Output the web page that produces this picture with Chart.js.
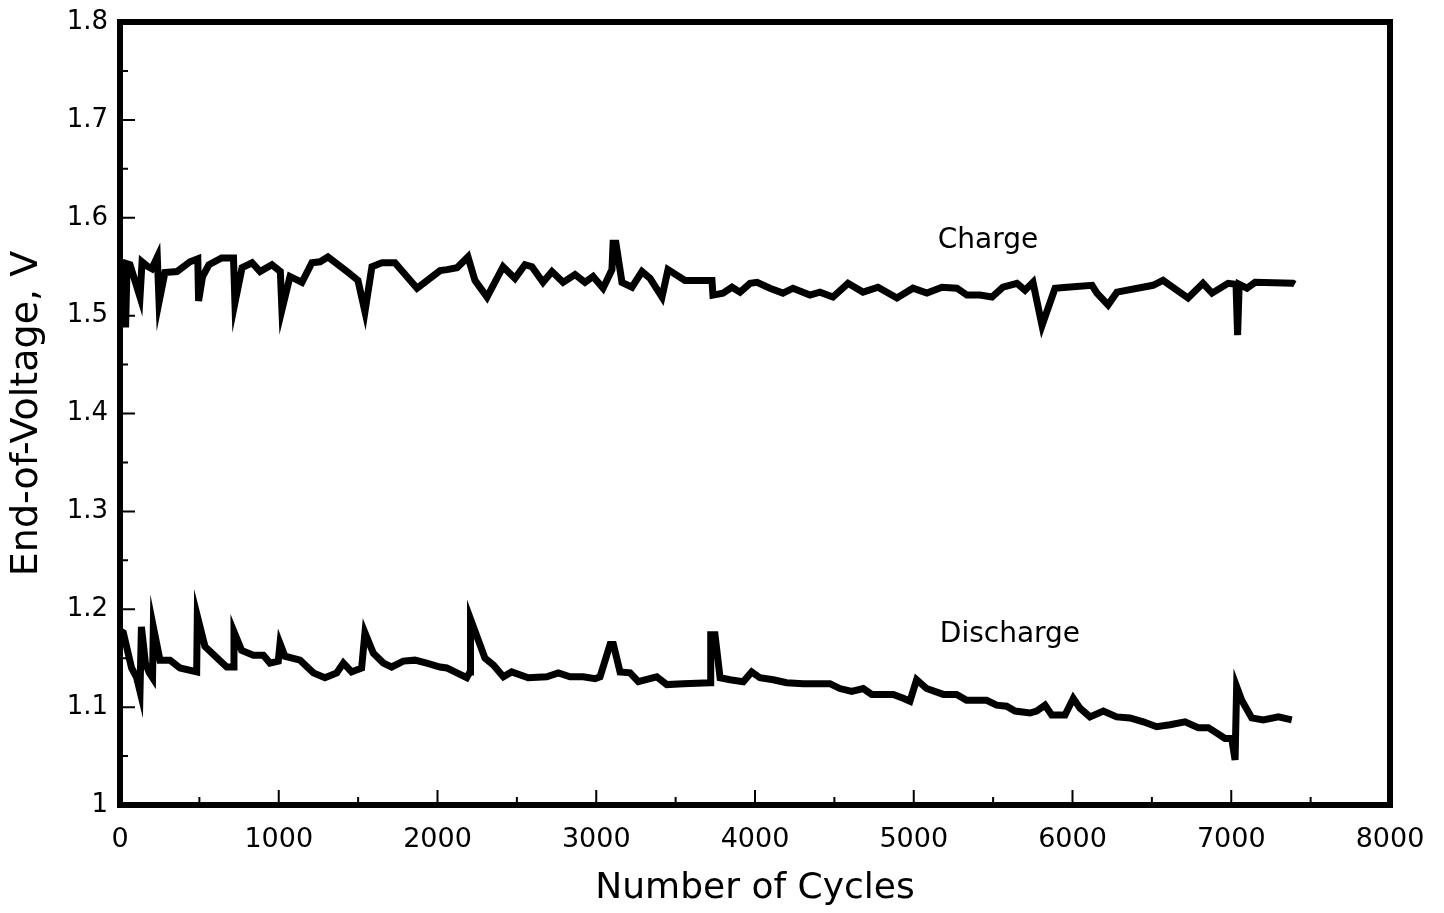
<!DOCTYPE html>
<html>
<head>
<meta charset="utf-8">
<script src="https://cdn.jsdelivr.net/npm/chart.js@4/dist/chart.umd.min.js"></script>
<style>
  html, body { margin: 0; padding: 0; background: #fff; }
  #wrap { width: 1444px; height: 913px; }
</style>
</head>
<body>
<div id="wrap"><canvas id="chart"></canvas></div>
<script>
// values (cycles, volts)
const chargeCycles = [0, 30, 35, 45, 63, 126, 139, 176, 200, 235, 239, 246, 283, 359, 441, 490, 495, 520, 560, 640, 715, 724, 769, 832, 882, 957, 1010, 1020, 1071, 1146, 1209, 1260, 1310, 1430, 1499, 1543, 1587, 1650, 1732, 1871, 2016, 2060, 2123, 2192, 2236, 2312, 2413, 2488, 2551, 2595, 2665, 2721, 2791, 2866, 2929, 2980, 3043, 3099, 3106, 3124, 3162, 3225, 3288, 3339, 3414, 3452, 3559, 3729, 3735, 3798, 3855, 3906, 3969, 4013, 4094, 4176, 4239, 4346, 4409, 4491, 4586, 4680, 4775, 4894, 4995, 5083, 5178, 5272, 5335, 5417, 5493, 5562, 5650, 5701, 5751, 5808, 5890, 5965, 6123, 6154, 6224, 6280, 6507, 6570, 6728, 6822, 6879, 6980, 7030, 7040, 7050, 7099, 7150, 7389, 7400];
const chargeVolts = [1.555, 1.553, 1.488, 1.553, 1.552, 1.519, 1.555, 1.55, 1.548, 1.56, 1.56, 1.514, 1.544, 1.545, 1.555, 1.558, 1.515, 1.54, 1.552, 1.559, 1.559, 1.513, 1.549, 1.554, 1.545, 1.552, 1.545, 1.506, 1.54, 1.534, 1.554, 1.555, 1.56, 1.545, 1.536, 1.504, 1.55, 1.554, 1.554, 1.528, 1.546, 1.547, 1.549, 1.56, 1.536, 1.519, 1.55, 1.538, 1.552, 1.55, 1.534, 1.545, 1.534, 1.542, 1.534, 1.54, 1.528, 1.547, 1.574, 1.574, 1.534, 1.529, 1.545, 1.538, 1.519, 1.547, 1.536, 1.536, 1.521, 1.523, 1.529, 1.524, 1.533, 1.534, 1.528, 1.523, 1.528, 1.521, 1.524, 1.519, 1.533, 1.524, 1.529, 1.518, 1.528, 1.523, 1.529, 1.528, 1.521, 1.521, 1.519, 1.529, 1.533, 1.526, 1.534, 1.49, 1.528, 1.529, 1.531, 1.523, 1.511, 1.524, 1.531, 1.536, 1.518, 1.533, 1.523, 1.533, 1.532, 1.48, 1.532, 1.528, 1.534, 1.533, 1.532];

const dischargeCycles = [0, 21, 73, 105, 126, 135, 160, 185, 205, 210, 252, 315, 378, 483, 487, 535, 672, 714, 718, 766, 840, 903, 945, 997, 1008, 1039, 1134, 1218, 1291, 1365, 1407, 1459, 1522, 1543, 1596, 1659, 1711, 1785, 1858, 1932, 2016, 2058, 2184, 2205, 2208, 2299, 2352, 2415, 2467, 2572, 2688, 2761, 2835, 2918, 2992, 3024, 3087, 3108, 3150, 3213, 3265, 3381, 3444, 3549, 3717, 3721, 3748, 3780, 3843, 3926, 3979, 4031, 4115, 4199, 4304, 4388, 4472, 4535, 4609, 4682, 4735, 4871, 4934, 4976, 5018, 5081, 5186, 5270, 5333, 5459, 5522, 5585, 5638, 5732, 5774, 5827, 5869, 5953, 6005, 6047, 6110, 6194, 6278, 6362, 6446, 6530, 6614, 6709, 6792, 6856, 6961, 7003, 7024, 7034, 7066, 7129, 7202, 7297, 7381];
const dischargeVolts = [1.178, 1.176, 1.14, 1.13, 1.116, 1.182, 1.145, 1.135, 1.13, 1.182, 1.148, 1.148, 1.14, 1.136, 1.193, 1.162, 1.141, 1.141, 1.177, 1.158, 1.153, 1.153, 1.145, 1.147, 1.165, 1.152, 1.148, 1.135, 1.13, 1.135, 1.145, 1.136, 1.14, 1.176, 1.155, 1.145, 1.141, 1.147, 1.148, 1.145, 1.141, 1.14, 1.13, 1.136, 1.19, 1.15, 1.143, 1.131, 1.136, 1.13, 1.131, 1.135, 1.131, 1.131, 1.129, 1.131, 1.164, 1.164, 1.136, 1.135, 1.126, 1.131, 1.123, 1.124, 1.125, 1.174, 1.174, 1.13, 1.128, 1.126, 1.136, 1.13, 1.128, 1.125, 1.124, 1.124, 1.124, 1.119, 1.116, 1.119, 1.113, 1.113, 1.109, 1.106, 1.128, 1.119, 1.113, 1.113, 1.107, 1.107, 1.102, 1.101, 1.096, 1.094, 1.096, 1.102, 1.092, 1.092, 1.109, 1.099, 1.09, 1.096, 1.09, 1.089, 1.085, 1.08, 1.082, 1.085, 1.079, 1.079, 1.068, 1.068, 1.046, 1.121, 1.107, 1.089, 1.087, 1.09, 1.087];

const seriesLabels = ['Charge', 'Discharge'];
const xTicks = [0, 1000, 2000, 3000, 4000, 5000, 6000, 7000, 8000];
const yTicks = [1, 1.1, 1.2, 1.3, 1.4, 1.5, 1.6, 1.7, 1.8];

const toPoints = (xs, ys) => xs.map((x, i) => ({ x: x, y: ys[i] }));

const font = "'DejaVu Sans', 'Liberation Sans', sans-serif";

// frame, inward ticks and curve names
const decorations = {
  id: 'decorations',
  afterDraw(chart) {
    const { ctx, chartArea: a, scales: { x, y } } = chart;
    ctx.save();
    ctx.strokeStyle = '#000';
    ctx.lineWidth = 2;
    ctx.beginPath();
    for (let v = 0; v <= 8000; v += 500) {
      const px = x.getPixelForValue(v);
      const len = v % 1000 === 0 ? 15 : 8;
      ctx.moveTo(px, a.bottom);
      ctx.lineTo(px, a.bottom - len);
    }
    for (let i = 0; i <= 16; i++) {
      const py = y.getPixelForValue(1 + i * 0.05);
      const len = i % 2 === 0 ? 15 : 8;
      ctx.moveTo(a.left, py);
      ctx.lineTo(a.left + len, py);
    }
    ctx.stroke();

    ctx.lineWidth = 6;
    ctx.strokeRect(a.left, a.top, a.right - a.left, a.bottom - a.top);

    ctx.fillStyle = '#000';
    ctx.font = '28px ' + font;
    ctx.textAlign = 'center';
    ctx.textBaseline = 'middle';
    ctx.fillText(seriesLabels[0], x.getPixelForValue(5468), y.getPixelForValue(1.577));
    ctx.fillText(seriesLabels[1], x.getPixelForValue(5606), y.getPixelForValue(1.174));
    ctx.restore();
  },
};

new Chart(document.getElementById('chart'), {
  type: 'scatter',
  data: {
    datasets: [
      {
        label: seriesLabels[0],
        data: toPoints(chargeCycles, chargeVolts),
        showLine: true,
        borderColor: '#000',
        borderWidth: 7,
        pointRadius: 0,
        borderJoinStyle: 'miter',
      },
      {
        label: seriesLabels[1],
        data: toPoints(dischargeCycles, dischargeVolts),
        showLine: true,
        borderColor: '#000',
        borderWidth: 7,
        pointRadius: 0,
        borderJoinStyle: 'miter',
      },
    ],
  },
  options: {
    responsive: true,
    maintainAspectRatio: false,
    animation: false,
    layout: { padding: { left: 0, right: 54, top: 22, bottom: 0 } },
    plugins: { legend: { display: false }, tooltip: { enabled: false } },
    scales: {
      x: {
        type: 'linear',
        min: 0,
        max: 8000,
        afterBuildTicks: (scale) => { scale.ticks = xTicks.map((v) => ({ value: v })); },
        afterFit: (scale) => { scale.height = 108; scale.paddingLeft = 0; scale.paddingRight = 0; },
        grid: { display: false, drawTicks: false },
        border: { display: false },
        ticks: { color: '#000', font: { family: font, size: 27 }, padding: 19, maxRotation: 0, callback: (v) => String(v) },
        title: { display: true, text: 'Number of Cycles', color: '#000', font: { family: font, size: 36 }, padding: { bottom: 3 } },
      },
      y: {
        type: 'linear',
        min: 1,
        max: 1.8,
        afterBuildTicks: (scale) => { scale.ticks = yTicks.map((v) => ({ value: v })); },
        afterFit: (scale) => { scale.width = 120; scale.paddingTop = 0; scale.paddingBottom = 0; },
        grid: { display: false, drawTicks: false },
        border: { display: false },
        ticks: { color: '#000', font: { family: font, size: 26 }, padding: 12, callback: (v) => String(Math.round(v * 10) / 10) },
        title: { display: true, text: 'End-of-Voltage, V', color: '#000', font: { family: font, size: 38 }, padding: { top: 4 } },
      },
    },
  },
  plugins: [decorations],
});
</script>
</body>
</html>
